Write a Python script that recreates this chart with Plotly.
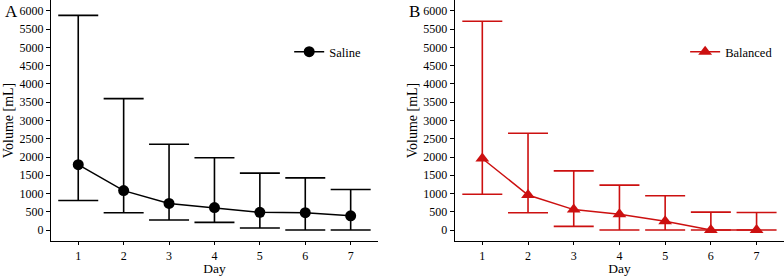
import plotly.graph_objects as go
from plotly.subplots import make_subplots

days = [1, 2, 3, 4, 5, 6, 7]
day_labels = ["1", "2", "3", "4", "5", "6", "7"]

saline_median = [1790, 1080, 730, 615, 485, 475, 390]
saline_upper = [5880, 3600, 2350, 1980, 1560, 1430, 1110]
saline_lower = [810, 475, 275, 210, 55, 0, 0]

balanced_median = [1960, 960, 560, 430, 240, 0, 0]
balanced_upper = [5720, 2650, 1620, 1230, 940, 490, 480]
balanced_lower = [980, 475, 100, 0, 0, 0, 0]

y_ticks = list(range(0, 6001, 500))

BLACK = "#000000"
RED = "#CC1010"
FONT = "Liberation Serif"


def err(med, up, lo):
    return dict(
        type="data",
        symmetric=False,
        array=[u - m for u, m in zip(up, med)],
        arrayminus=[m - l for m, l in zip(med, lo)],
        width=20,
        thickness=1.6,
    )


fig = make_subplots(rows=1, cols=2, horizontal_spacing=0.1)

fig.add_trace(
    go.Scatter(
        x=days, y=saline_median, name="Saline", mode="lines+markers",
        line=dict(color=BLACK, width=1.5),
        marker=dict(symbol="circle", size=11, color=BLACK),
        error_y=dict(err(saline_median, saline_upper, saline_lower), color=BLACK),
        legend="legend", showlegend=True,
    ),
    row=1, col=1,
)
fig.add_trace(
    go.Scatter(
        x=days, y=balanced_median, name="Balanced", mode="lines+markers",
        line=dict(color=RED, width=1.5),
        marker=dict(symbol="triangle-up", size=12, color=RED),
        error_y=dict(err(balanced_median, balanced_upper, balanced_lower), color=RED),
        legend="legend2", showlegend=True,
    ),
    row=1, col=2,
)

axis_common = dict(
    showline=True, linecolor=BLACK, linewidth=1.3,
    ticks="outside", tickwidth=1, tickcolor=BLACK,
    showgrid=False, zeroline=False, automargin=False,
    tickfont=dict(family=FONT, size=12, color=BLACK),
)

fig.update_xaxes(
    **axis_common, ticklen=3, range=[0.4, 7.6], tickvals=days, ticktext=day_labels,
    title=dict(text="Day", font=dict(family=FONT, size=13.5, color=BLACK), standoff=2),
)
fig.update_yaxes(
    **axis_common, ticklen=4, range=[-300, 6300], tickvals=y_ticks,
    title=dict(text="Volume [mL]", font=dict(family=FONT, size=14, color=BLACK), standoff=2),
)

legend_common = dict(
    xanchor="right", yanchor="middle", bgcolor="rgba(0,0,0,0)",
    font=dict(family=FONT, size=12.5, color=BLACK),
    xref="paper", yref="paper",
)

fig.update_layout(
    xaxis=dict(domain=[0, 0.446]),
    xaxis2=dict(domain=[0.551, 1.0]),
    width=784, height=276,
    margin=dict(l=51, r=0, t=0, b=35),
    plot_bgcolor="white", paper_bgcolor="white",
    font=dict(family=FONT, size=12, color=BLACK),
    showlegend=True,
    legend=dict(legend_common, x=0.43, y=0.784),
    legend2=dict(legend_common, x=0.992, y=0.784),
)

fig.add_annotation(text="A", xref="paper", yref="paper", x=-0.066, y=0.954,
                   xanchor="left", yanchor="middle", showarrow=False,
                   font=dict(family=FONT, size=17, color=BLACK))
fig.add_annotation(text="B", xref="paper", yref="paper", x=0.486, y=0.954,
                   xanchor="left", yanchor="middle", showarrow=False,
                   font=dict(family=FONT, size=17, color=BLACK))

fig.write_html(
    "out.html",
    config={"displayModeBar": False},
    post_script="document.body.style.margin='0';document.body.style.overflow='hidden';",
)
